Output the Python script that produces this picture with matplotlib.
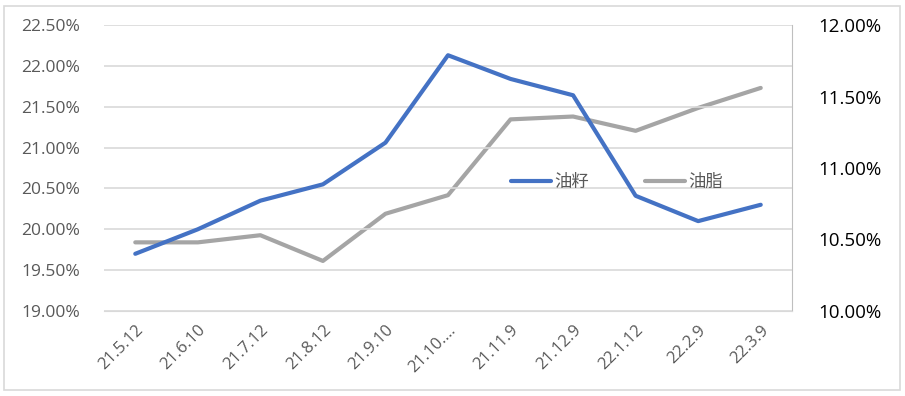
import matplotlib
matplotlib.use('Agg')
import matplotlib.pyplot as plt
from matplotlib.ticker import FuncFormatter
from matplotlib.patches import Rectangle

plt.rcParams['font.family'] = ['Open Sans', 'Noto Sans CJK SC', 'DejaVu Sans']

# data
dates = ['21.5.12', '21.6.10', '21.7.12', '21.8.12', '21.9.10', '21.10.…',
         '21.11.9', '21.12.9', '22.1.12', '22.2.9', '22.3.9']
seeds = [19.70, 20.00, 20.35, 20.55, 21.06, 22.13, 21.84, 21.64, 20.41, 20.10, 20.30]
oils = [10.48, 10.48, 10.53, 10.35, 10.68, 10.81, 11.34, 11.36, 11.26, 11.42, 11.56]
left_ticks = [19.0, 19.5, 20.0, 20.5, 21.0, 21.5, 22.0, 22.5]
right_ticks = [10.0, 10.5, 11.0, 11.5, 12.0]

fig = plt.figure(figsize=(9.05, 3.96), dpi=100)
ax = fig.add_axes([104/905, 1-311/396, 688/905, 286/396])
ax2 = ax.twinx()

x = list(range(len(dates)))
l1, = ax.plot(x, seeds, color='#4472C4', lw=3, solid_capstyle='round', label='油籽')
l2, = ax2.plot(x, oils, color='#A5A5A5', lw=3, solid_capstyle='round', label='油脂')
ax.set_zorder(ax2.get_zorder() + 1)
ax.patch.set_visible(False)

ax.set_xlim(-0.5, len(dates) - 0.5)
ax.set_ylim(19.0, 22.5)
ax2.set_ylim(10.0, 12.0)
ax.set_yticks(left_ticks)
ax2.set_yticks(right_ticks)
fmt = FuncFormatter(lambda v, p: '%.2f%%' % v)
ax.yaxis.set_major_formatter(fmt)
ax2.yaxis.set_major_formatter(fmt)
ax.grid(axis='y', color='#D9D9D9', lw=1.2)
ax.set_axisbelow(True)

ax.set_xticks(x)
ax.set_xticklabels(dates, rotation=45, ha='right', rotation_mode='anchor',
                   fontsize=12, color='#595959')
ax.tick_params(axis='y', length=0, labelsize=12.5, labelcolor='#595959', pad=17)
ax.tick_params(axis='x', length=0, pad=8)
ax2.tick_params(axis='y', length=0, labelsize=13.5, labelcolor='black', pad=19)

for s in ['top', 'left', 'bottom']:
    ax.spines[s].set_visible(False)
    ax2.spines[s].set_visible(False)
ax.spines['right'].set_visible(False)
ax2.spines['right'].set_color('#BFBFBF')
ax2.spines['bottom'].set_visible(True)
ax2.spines['bottom'].set_color('#D9D9D9')

ax.legend(handles=[l1, l2], loc='center', bbox_to_anchor=(0.746, 0.45), ncol=2,
          frameon=False, prop={'family': ['Noto Sans CJK SC'], 'size': 12.5},
          labelcolor='#595959', handlelength=2.3, columnspacing=3.2, handletextpad=0.2)

fig.patches.append(Rectangle((4/905, 6/396), 896/905, 384/396, transform=fig.transFigure,
                             fill=False, edgecolor='#D9D9D9', lw=1.2))

fig.savefig('out.png', dpi=100)
